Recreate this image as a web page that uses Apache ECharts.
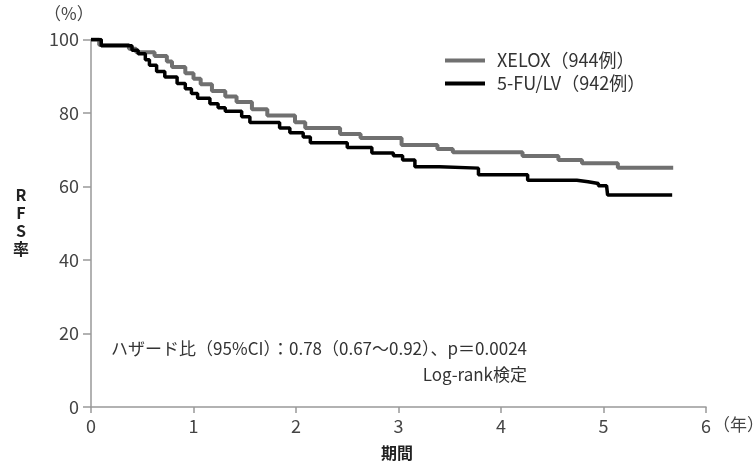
<!DOCTYPE html>
<html><head><meta charset="utf-8">
<script src="https://cdn.jsdelivr.net/npm/echarts@6/dist/echarts.min.js"></script>
<style>html,body{margin:0;padding:0;background:#fff}#c{width:754px;height:468px}</style>
</head><body><div id="c"></div>
<script>
const seriesNames = ['XELOX（944例）', '5-FU/LV（942例）'];
const xeloxT = [0, 0.08, 0.37, 0.44, 0.62, 0.74, 0.79, 0.92, 1.0, 1.07, 1.18, 1.31, 1.42, 1.57, 1.72, 1.99, 2.09, 2.43, 2.63, 3.03, 3.38, 3.53, 4.21, 4.56, 4.79, 5.14, 5.68];
const xeloxS = [100, 98.5, 97.5, 96.5, 95.5, 94, 92.5, 90.8, 89.3, 87.8, 86, 84.5, 83, 81, 79.3, 77.5, 75.9, 74.3, 73.2, 71.3, 70.2, 69.3, 68.3, 67.2, 66.3, 65.1, 65.1];
const fuT = [0, 0.1, 0.4, 0.46, 0.53, 0.57, 0.64, 0.72, 0.84, 0.92, 0.98, 1.04, 1.16, 1.24, 1.31, 1.47, 1.55, 1.84, 1.94, 2.07, 2.14, 2.5, 2.74, 2.95, 3.04, 3.16, 3.4, 3.78, 4.26, 4.74, 4.85, 4.95, 5.03, 5.04, 5.67];
const fuS = [100, 98.3, 97.1, 96.1, 94.5, 93.0, 91.3, 89.8, 88.0, 86.6, 85.3, 84.0, 82.5, 81.4, 80.5, 79.0, 77.4, 75.9, 74.6, 73.5, 71.9, 70.6, 69.1, 68.4, 67.2, 65.4, 65.0, 63.2, 61.7, 61.3, 60.8, 60.2, 59.8, 57.7, 57.7];
const xTicks = [0, 1, 2, 3, 4, 5, 6];
const yTicks = [0, 20, 40, 60, 80, 100];
const annotation1 = 'ハザード比（95%CI）：0.78（0.67〜0.92）、p＝0.0024';
const annotation2 = 'Log-rank検定';

const FONT = '"Noto Sans CJK JP", "Noto Sans", sans-serif';
const chart = echarts.init(document.getElementById('c'), null, {renderer: 'canvas'});
const zip = (t, s) => t.map((v, i) => [v, s[i]]);
chart.setOption({
  animation: false,
  textStyle: {fontFamily: FONT},
  grid: {left: 91, right: 48, top: 39.5, bottom: 61},
  legend: {
    data: seriesNames, orient: 'vertical', left: 445, top: 51.5, padding: 0, itemWidth: 40, itemHeight: 4, itemGap: 5,
    textStyle: {fontSize: 18, color: '#333', fontFamily: FONT, padding: [0, 0, 0, 7], lineHeight: 18},
    icon: 'rect'
  },
  xAxis: {
    type: 'value', min: xTicks[0], max: xTicks[xTicks.length - 1], interval: 1,
    axisLine: {lineStyle: {color: '#999', width: 1.5}},
    axisTick: {show: true, length: 6, lineStyle: {color: '#999', width: 1.5}},
    axisLabel: {fontSize: 18, color: '#444', margin: 10, fontFamily: FONT},
    splitLine: {show: false}
  },
  yAxis: {
    type: 'value', min: yTicks[0], max: yTicks[yTicks.length - 1], interval: 20,
    axisLine: {show: true, lineStyle: {color: '#999', width: 1.5}},
    axisTick: {show: true, length: 8, lineStyle: {color: '#999', width: 1.5}},
    axisLabel: {fontSize: 18, color: '#444', margin: 12, fontFamily: FONT},
    splitLine: {show: false}
  },
  series: [
    {name: seriesNames[0], type: 'line', step: 'end', showSymbol: false, data: zip(xeloxT, xeloxS),
     lineStyle: {color: '#707070', width: 4}, itemStyle: {color: '#707070'}, z: 2},
    {name: seriesNames[1], type: 'line', step: 'end', showSymbol: false, data: zip(fuT, fuS),
     lineStyle: {color: '#000', width: 3.5}, itemStyle: {color: '#000'}, z: 3}
  ],
  graphic: [
    {type: 'text', left: 44, top: 5, style: {text: '（%）', fontSize: 17, fill: '#444', fontFamily: FONT}},
    {type: 'text', left: 13, top: 186, style: {text: 'R\nF\nS\n率', fontSize: 16, lineHeight: 18, fontWeight: 'bold', fill: '#222', textAlign: 'center', fontFamily: FONT}},
    {type: 'text', left: 381, top: 445, style: {text: '期間', fontSize: 16, fontWeight: 'bold', fill: '#222', fontFamily: FONT}},
    {type: 'text', left: 713, top: 416, style: {text: '（年）', fontSize: 17, fill: '#444', fontFamily: FONT}},
    {type: 'text', right: 227, top: 340, style: {text: annotation1, fontSize: 17, fill: '#333', fontFamily: FONT}},
    {type: 'text', right: 227, top: 366, style: {text: annotation2, fontSize: 17, fill: '#333', fontFamily: FONT}}
  ]
});
</script></body></html>
